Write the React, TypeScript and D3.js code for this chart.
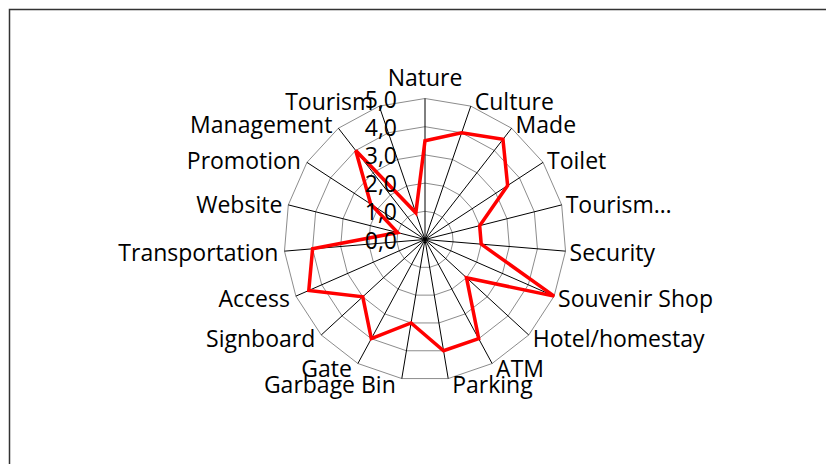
import React from "react";
import * as d3 from "d3";

const categories = ["Nature","Culture","Made","Toilet","Tourism…","Security","Souvenir Shop","Hotel/homestay","ATM","Parking","Garbage Bin","Gate","Signboard","Access","Transportation","Website","Promotion","Management","Tourism"];
const values = [3.5, 4.0, 4.5, 3.5, 2.0, 2.0, 5.0, 2.0, 4.0, 4.0, 3.0, 4.0, 3.0, 4.5, 4.0, 1.0, 2.3, 4.0, 1.0];
const ticks = [0, 1, 2, 3, 4, 5];
const tickLabels = ["0,0", "1,0", "2,0", "3,0", "4,0", "5,0"];

const W = 826, H = 464;
const cx = 425, cy = 239.5, R = 141;
const FONT = "'Open Sans', 'Noto Sans', sans-serif";
const FS = 23;

export default function App() {
  const n = categories.length;
  const ang = d3.scaleLinear().domain([0, n]).range([0, 2 * Math.PI]);
  const r = d3.scaleLinear().domain([0, 5]).range([0, R]);
  const pt = (i: number, v: number): [number, number] => {
    const a = ang(i);
    return [cx + r(v) * Math.sin(a), cy - r(v) * Math.cos(a)];
  };
  const line = d3.line<[number, number]>().curve(d3.curveLinearClosed);
  const ringPath = (t: number) => line(categories.map((_, i) => pt(i, t))) as string;
  const dataPath = line(values.map((v, i) => pt(i, v))) as string;

  return (
    <svg width={W} height={H} style={{ position: "absolute", left: 0, top: 0, background: "#fff" }}>
      <rect x={9.5} y={9.5} width={W} height={H} fill="#fff" stroke="#333" strokeWidth={1.5} />
      {ticks.slice(1).map((t) => (
        <path key={t} d={ringPath(t)} fill="none" stroke="#8c8c8c" strokeWidth={1} />
      ))}
      {categories.map((_, i) => {
        const [x, y] = pt(i, 5);
        return <line key={i} x1={cx} y1={cy} x2={x} y2={y} stroke="#000" strokeWidth={1} />;
      })}
      <path d={dataPath} fill="none" stroke="#ff0000" strokeWidth={3.5} strokeLinejoin="miter" />
      {categories.map((c, i) => {
        const a = ang(i);
        const s = Math.sin(a), co = Math.cos(a);
        const [x, y] = pt(i, 5);
        const anchor: "start" | "end" | "middle" = s > 0.05 ? "start" : s < -0.05 ? "end" : "middle";
        const tx = x + (anchor === "start" ? 4 : anchor === "end" ? -6 : 0);
        const ty = anchor === "middle" ? y - 22 : y - 5 * co;
        return (
          <text key={c} x={tx} y={ty} textAnchor={anchor} dominantBaseline="central"
            fontFamily={FONT} fontSize={FS} fill="#000">{c}</text>
        );
      })}
      {ticks.map((t, i) => (
        <text key={t} x={cx - 28} y={cy - r(t)} textAnchor="end" dominantBaseline="central"
          fontFamily={FONT} fontSize={FS} fill="#000">{tickLabels[i]}</text>
      ))}
    </svg>
  );
}
